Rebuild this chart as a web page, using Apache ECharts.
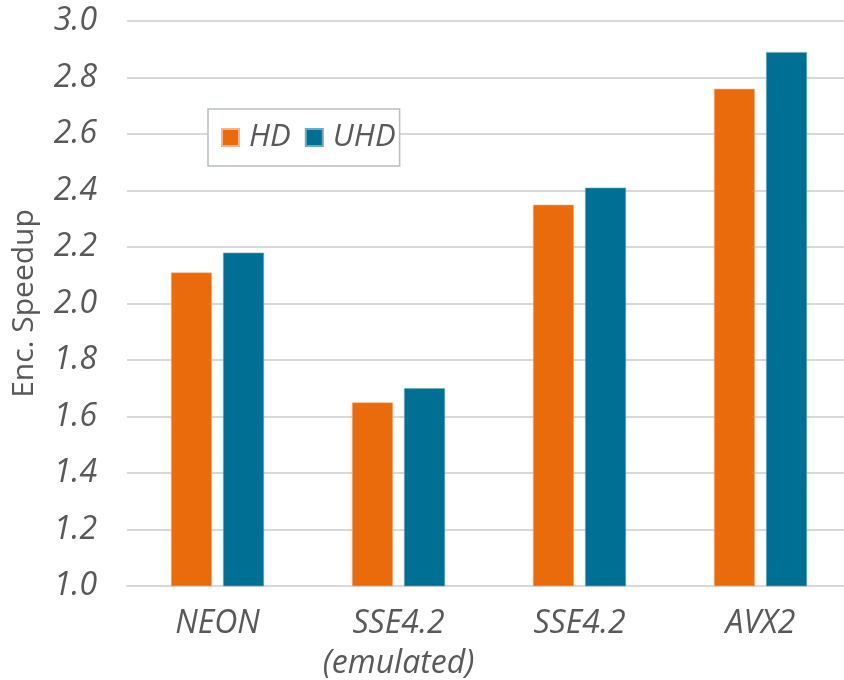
<!DOCTYPE html>
<html>
<head>
<meta charset="utf-8">
<script src="https://cdn.jsdelivr.net/npm/echarts@6/dist/echarts.min.js"></script>
<style>
  html, body { margin: 0; padding: 0; background: #fff; }
  #chart { width: 844px; height: 680px; }
</style>
</head>
<body>
<div id="chart"></div>
<script>
// Encoder speedup per SIMD instruction set, HD vs UHD content
const categories = ['NEON', 'SSE4.2\n(emulated)', 'SSE4.2', 'AVX2'];
const hdSpeedup  = [2.11, 1.65, 2.35, 2.76];
const uhdSpeedup = [2.18, 1.70, 2.41, 2.89];
const seriesNames = ['HD', 'UHD'];
const yTicks = { min: 1.0, max: 3.0, step: 0.2 };

const textColor = '#595959';
const font = '"Open Sans", "Noto Sans", sans-serif';

const chart = echarts.init(document.getElementById('chart'));
chart.setOption({
  animation: false,
  backgroundColor: '#fff',
  grid: {
    left: 127, top: 21, width: 724, height: 565,
    containLabel: false, outerBoundsMode: 'none'
  },
  legend: {
    left: 208, top: 109,
    data: seriesNames,
    icon: 'rect',
    itemWidth: 17, itemHeight: 17, itemGap: 14,
    padding: [13, 4, 13, 13],
    borderColor: '#b7bfbf', borderWidth: 1.5,
    backgroundColor: '#fff',
    textStyle: {
      color: textColor, fontSize: 31, fontStyle: 'italic', fontFamily: font,
      lineHeight: 30, padding: [0, 0, 0, 5]
    }
  },
  xAxis: {
    type: 'category',
    data: categories,
    axisLine: { show: true, lineStyle: { color: '#d9d9d9', width: 2 } },
    axisTick: { show: false },
    axisLabel: {
      color: textColor, fontSize: 32, fontStyle: 'italic', fontFamily: font,
      margin: 18, lineHeight: 40, interval: 0
    }
  },
  yAxis: {
    type: 'value',
    min: yTicks.min, max: yTicks.max, interval: yTicks.step,
    name: 'Enc. Speedup',
    nameLocation: 'middle',
    nameGap: 88,
    nameTextStyle: { color: textColor, fontSize: 30, fontFamily: font },
    axisLine: { show: false },
    axisTick: { show: false },
    splitLine: { lineStyle: { color: '#d9d9d9', width: 2 } },
    axisLabel: {
      color: textColor, fontSize: 32, fontStyle: 'italic', fontFamily: font,
      margin: 30,
      formatter: v => v.toFixed(1)
    }
  },
  series: [
    {
      name: seriesNames[0], type: 'bar', data: hdSpeedup,
      barWidth: 41, barGap: '27%',
      itemStyle: { color: '#e96b0c', borderColor: '#f4b58a', borderWidth: 0.6 }
    },
    {
      name: seriesNames[1], type: 'bar', data: uhdSpeedup,
      barWidth: 41,
      itemStyle: { color: '#006f94', borderColor: '#6fa9c0', borderWidth: 0.6 }
    }
  ]
});
</script>
</body>
</html>
